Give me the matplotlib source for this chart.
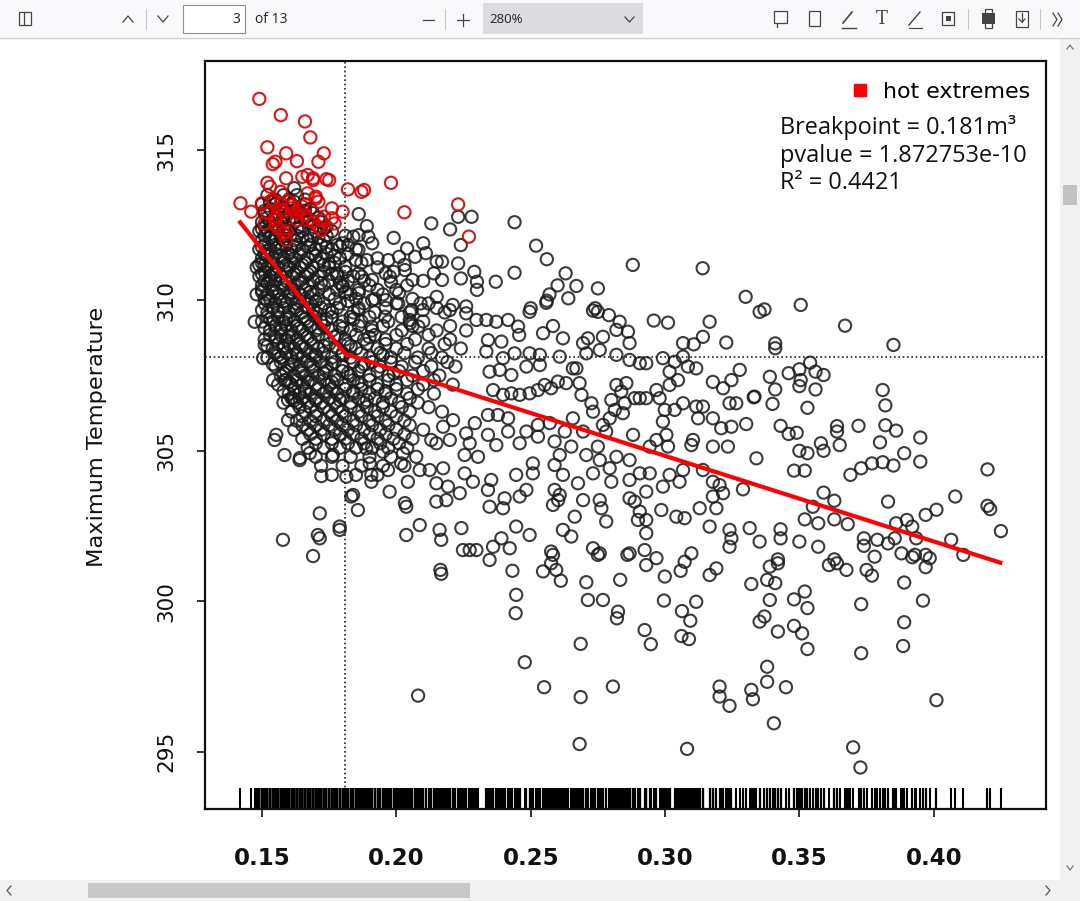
import matplotlib
matplotlib.use("Agg")
import matplotlib.pyplot as plt
from matplotlib.patches import Rectangle
from matplotlib.lines import Line2D
from matplotlib.transforms import blended_transform_factory

# ---------------- data ----------------
red_pts = [
    (0.149, 316.70), (0.157, 316.16), (0.166, 315.95), (0.168, 315.42), (0.152, 315.09),
    (0.159, 314.89), (0.163, 314.63), (0.155, 314.61), (0.154, 314.53), (0.173, 314.89),
    (0.171, 314.61), (0.159, 314.06), (0.165, 314.11), (0.167, 314.17), (0.169, 314.06),
    (0.174, 314.03), (0.152, 313.91), (0.153, 313.78), (0.157, 313.61), (0.142, 313.23),
    (0.146, 312.95), (0.150, 313.23), (0.154, 313.34), (0.157, 313.23), (0.160, 313.28),
    (0.165, 313.12), (0.170, 313.45), (0.171, 313.28), (0.176, 313.06), (0.180, 312.95),
    (0.176, 312.73), (0.177, 312.56), (0.172, 312.67), (0.169, 312.62), (0.172, 312.34),
    (0.155, 312.78), (0.155, 312.51), (0.158, 312.23), (0.159, 312.01), (0.158, 312.95),
    (0.161, 313.06), (0.163, 312.90), (0.166, 312.84), (0.182, 313.69), (0.187, 313.61),
    (0.188, 313.67), (0.198, 313.91), (0.203, 312.93), (0.223, 313.19), (0.227, 312.12),
    (0.169, 314.00), (0.175, 314.00), (0.154, 313.28), (0.157, 313.00), (0.161, 313.16),
    (0.164, 312.98), (0.155, 312.67), (0.159, 312.29), (0.156, 312.40), (0.163, 312.67),
    (0.167, 312.67), (0.171, 312.45), (0.173, 312.78), (0.170, 313.39), (0.167, 313.56),
    (0.152, 312.90), (0.151, 312.56),
]

black_top = [
    (0.162, 313.73), (0.186, 312.87), (0.189, 312.47), (0.199, 312.08), (0.213, 312.56),
    (0.220, 312.36), (0.223, 312.78), (0.228, 312.78), (0.224, 311.84), (0.210, 311.90),
    (0.204, 311.73), (0.201, 311.45), (0.207, 311.45), (0.211, 311.57), (0.215, 311.29),
    (0.217, 311.29), (0.223, 311.23), (0.229, 310.95), (0.230, 310.62), (0.224, 310.73),
    (0.217, 310.68), (0.214, 310.90), (0.206, 310.68), (0.203, 311.18), (0.197, 311.34),
    (0.193, 311.40), (0.191, 311.90), (0.186, 312.17), (0.184, 312.12), (0.180, 311.90),
    (0.189, 311.34), (0.185, 311.34), (0.181, 311.12), (0.186, 310.90), (0.191, 310.68),
    (0.196, 310.90), (0.198, 310.62), (0.201, 310.24), (0.196, 310.01), (0.191, 310.01),
    (0.186, 310.24), (0.180, 310.46), (0.178, 310.90), (0.175, 311.23), (0.209, 309.90),
    (0.215, 310.12), (0.221, 309.85), (0.226, 309.80), (0.230, 310.35), (0.149, 311.18),
    (0.151, 310.07), (0.153, 310.68),
    (0.244, 312.60), (0.252, 311.82), (0.256, 311.37), (0.244, 310.92), (0.237, 310.62),
    (0.263, 310.90), (0.260, 310.50), (0.267, 310.48), (0.257, 310.20), (0.256, 309.99),
    (0.264, 310.07), (0.275, 310.40), (0.288, 311.18), (0.314, 311.07), (0.330, 310.12),
    (0.250, 309.74), (0.274, 309.74),
    (0.3505, 309.85), (0.337, 309.70), (0.367, 309.16), (0.385, 308.52),
    (0.1896, 312.12), (0.1790, 311.79), (0.1821, 311.84), (0.1859, 311.68), (0.2032, 311.01),
    (0.1976, 310.79), (0.1871, 310.79), (0.1958, 309.46), (0.2007, 309.90), (0.2057, 309.68),
    (0.2051, 309.24), (0.2082, 309.13), (0.1908, 309.13), (0.1858, 309.68),
]

black_right = [
    (0.341, 308.57), (0.341, 308.41), (0.339, 307.46), (0.341, 307.04), (0.340, 306.56),
    (0.346, 307.58), (0.350, 307.71), (0.354, 307.93), (0.356, 307.63), (0.359, 307.52),
    (0.3505, 307.35), (0.350, 307.15), (0.356, 307.04), (0.353, 306.43), (0.343, 305.83),
    (0.346, 305.56), (0.349, 305.60), (0.350, 305.00), (0.353, 304.92), (0.358, 305.25),
    (0.359, 305.00), (0.364, 305.82), (0.364, 305.64), (0.365, 305.19), (0.372, 305.83),
    (0.380, 305.28), (0.381, 307.02), (0.382, 306.51), (0.382, 305.85), (0.386, 305.67),
    (0.395, 305.44), (0.389, 304.92), (0.395, 304.64), (0.348, 304.34), (0.352, 304.34),
    (0.369, 304.20), (0.373, 304.42), (0.377, 304.58), (0.381, 304.62), (0.385, 304.51),
    (0.420, 304.38), (0.359, 303.61), (0.363, 303.34), (0.355, 303.14), (0.383, 303.31),
    (0.408, 303.48), (0.420, 303.17), (0.421, 303.06), (0.401, 303.04), (0.397, 302.87),
    (0.352, 302.72), (0.357, 302.59), (0.363, 302.72), (0.368, 302.56), (0.386, 302.59),
    (0.390, 302.70), (0.392, 302.48), (0.425, 302.33), (0.4065, 302.04), (0.343, 302.39),
    (0.343, 302.09), (0.350, 301.98), (0.357, 301.81), (0.374, 302.09), (0.374, 301.84),
    (0.379, 302.04), (0.383, 301.92), (0.3855, 302.09), (0.3935, 302.09), (0.388, 301.59),
    (0.393, 301.54), (0.397, 301.54), (0.411, 301.54), (0.342, 301.39), (0.363, 301.39),
    (0.378, 301.48),
    (0.339, 301.15), (0.342, 301.26), (0.341, 300.60), (0.338, 300.71), (0.339, 300.04),
    (0.348, 300.06), (0.352, 300.32), (0.353, 299.77), (0.337, 299.49), (0.342, 298.99),
    (0.348, 299.18), (0.351, 298.93), (0.353, 298.41), (0.338, 297.82), (0.338, 297.32),
    (0.345, 297.14), (0.3405, 295.94), (0.361, 301.20), (0.364, 301.26), (0.3675, 301.04),
    (0.375, 301.04), (0.377, 300.85), (0.392, 301.46), (0.397, 301.13), (0.3985, 301.43),
    (0.389, 300.62), (0.396, 300.02), (0.373, 299.90), (0.389, 299.30), (0.3886, 298.51),
    (0.373, 298.27), (0.401, 296.71), (0.370, 295.14), (0.3727, 294.47),
]

black_mid = [
    (0.2496, 309.62), (0.2558, 309.92), (0.2732, 309.66), (0.2750, 309.62), (0.2791, 309.51),
    (0.2831, 309.29), (0.2862, 308.96), (0.2958, 309.33), (0.3011, 309.26), (0.3166, 309.29),
    (0.3141, 308.79), (0.3067, 308.58), (0.3107, 308.54), (0.3228, 308.60), (0.3352, 309.62),
    (0.2335, 309.35), (0.2372, 309.29), (0.2416, 309.35), (0.2453, 309.13), (0.2457, 308.85),
    (0.2391, 308.63), (0.2341, 308.68), (0.2546, 308.91), (0.2583, 309.15), (0.2620, 308.74),
    (0.2695, 308.58), (0.2713, 308.74), (0.2769, 308.79), (0.2819, 309.02), (0.2868, 308.58),
    (0.2707, 308.24), (0.2757, 308.35), (0.2819, 308.19), (0.2868, 308.02), (0.2906, 307.91),
    (0.2930, 307.91), (0.2992, 308.08), (0.3036, 307.96), (0.3067, 308.13), (0.3085, 307.80),
    (0.3116, 307.74), (0.3017, 307.63), (0.3048, 307.35), (0.3017, 307.19), (0.3178, 307.29),
    (0.3216, 307.08), (0.3247, 307.35), (0.3278, 307.69), (0.3240, 306.58), (0.3265, 306.58),
    (0.3330, 306.78), (0.3302, 305.89), (0.3116, 306.47), (0.3141, 306.47), (0.3123, 306.08),
    (0.3178, 306.08), (0.3209, 305.75), (0.3247, 305.80), (0.3234, 305.14), (0.3178, 305.14),
    (0.3104, 305.36), (0.3098, 305.19), (0.3005, 305.53), (0.3011, 305.14), (0.2968, 305.36),
    (0.2943, 305.14), (0.2881, 305.53), (0.2968, 307.02), (0.2980, 306.75), (0.2999, 306.36),
    (0.2992, 305.97), (0.3036, 306.36), (0.3067, 306.58), (0.2906, 306.75), (0.2930, 306.75),
    (0.2887, 306.75), (0.2856, 307.25), (0.2819, 307.19), (0.2837, 306.97), (0.2850, 306.58),
    (0.2800, 306.69), (0.2813, 306.36), (0.2843, 306.25), (0.2794, 306.08), (0.2769, 305.86),
    (0.2781, 305.64), (0.2732, 306.30), (0.2726, 306.58), (0.2689, 306.86), (0.2682, 307.25),
    (0.2670, 307.74), (0.2632, 307.25), (0.2601, 307.30), (0.2576, 307.08), (0.2552, 307.19),
    (0.2527, 307.02), (0.2496, 306.91), (0.2459, 306.86), (0.2428, 306.91), (0.2397, 306.86),
    (0.2360, 307.02), (0.2347, 307.63), (0.2385, 307.69), (0.2428, 307.52), (0.2484, 307.80),
    (0.2534, 307.85), (0.2496, 308.24), (0.2534, 308.19), (0.2608, 308.13), (0.2657, 307.74),
    (0.2440, 308.24), (0.2397, 308.08), (0.2335, 308.30), (0.2341, 306.19), (0.2378, 306.19),
    (0.2416, 306.08), (0.2341, 305.53), (0.2372, 305.19), (0.2416, 305.64), (0.2459, 305.25),
    (0.2484, 305.64), (0.2527, 305.47), (0.2527, 305.86), (0.2571, 305.92), (0.2589, 305.31),
    (0.2608, 304.86), (0.2589, 304.53), (0.2651, 305.14), (0.2627, 305.64), (0.2657, 306.08),
    (0.2695, 305.64), (0.2707, 304.86), (0.2757, 304.69), (0.2794, 304.42), (0.2819, 304.80),
    (0.2750, 305.14), (0.2868, 304.69), (0.2906, 304.25), (0.2943, 304.25), (0.2868, 304.03),
    (0.2800, 303.97), (0.2732, 304.25), (0.2676, 303.92), (0.2620, 304.20), (0.2508, 304.25),
    (0.2508, 304.58), (0.2446, 304.20), (0.2353, 304.03), (0.2341, 303.70), (0.2403, 303.42),
    (0.2459, 303.48), (0.2397, 303.09), (0.2347, 303.14), (0.2484, 303.70), (0.2589, 303.70),
    (0.2608, 303.53), (0.2583, 303.20), (0.2695, 303.36), (0.2757, 303.36), (0.2763, 303.09),
    (0.2868, 303.42), (0.2887, 303.31), (0.2930, 303.64), (0.2992, 303.81), (0.3054, 303.97),
    (0.3017, 304.20), (0.3067, 304.36), (0.3141, 304.36), (0.3178, 303.97), (0.3203, 303.86),
    (0.3290, 303.72), (0.3216, 303.59), (0.2986, 303.03), (0.3042, 302.81), (0.3073, 302.76),
    (0.3129, 303.09), (0.3178, 303.48), (0.3191, 303.09), (0.2906, 302.98), (0.2930, 302.70),
    (0.2899, 302.70), (0.2781, 302.65), (0.2664, 302.81), (0.2620, 302.37), (0.2651, 302.15),
    (0.2602, 303.36), (0.2446, 302.48), (0.2496, 302.20), (0.2391, 302.09), (0.2360, 301.81),
    (0.2422, 301.76), (0.2576, 301.65), (0.2732, 301.76), (0.2757, 301.59), (0.2868, 301.59),
    (0.2924, 301.70), (0.2930, 302.26), (0.3098, 301.59), (0.3166, 302.48), (0.3240, 302.37),
    (0.3247, 302.09), (0.3240, 301.81), (0.3315, 302.43), (0.3352, 301.98), (0.3333, 306.80),
    (0.3340, 304.75),
]

black_low = [
    (0.2347, 301.37), (0.2432, 301.01), (0.2446, 300.21), (0.2444, 299.60), (0.2478, 297.97),
    (0.2550, 297.14), (0.2686, 298.58), (0.2686, 296.81), (0.2682, 295.25), (0.2806, 297.16),
    (0.2546, 300.99), (0.2576, 301.26), (0.2595, 301.04), (0.2612, 300.68), (0.2583, 301.54),
    (0.2707, 300.63), (0.2713, 300.04), (0.2769, 300.04), (0.2750, 301.54), (0.2833, 300.71),
    (0.2825, 299.65), (0.2821, 299.43), (0.2860, 301.54), (0.2930, 301.20), (0.2968, 301.43),
    (0.2924, 299.04), (0.2947, 298.57), (0.2999, 300.82), (0.2996, 300.02), (0.3058, 301.01),
    (0.3073, 301.31), (0.3063, 299.67), (0.3094, 299.35), (0.3116, 299.98), (0.3061, 298.84),
    (0.3089, 298.74), (0.3082, 295.09), (0.3166, 300.87), (0.3191, 301.09), (0.3203, 297.16),
    (0.3203, 296.83), (0.3240, 296.52), (0.3321, 297.05), (0.3327, 296.74), (0.3321, 300.57),
    (0.3352, 299.32), (0.1690, 301.50), (0.2164, 301.04), (0.2167, 300.91), (0.2081, 296.86),
]

black_left = [
    (0.1473, 309.29), (0.1510, 308.52), (0.1504, 308.08), (0.1541, 307.35), (0.1584, 307.35),
    (0.1597, 306.69), (0.1615, 306.75), (0.1597, 306.02), (0.1553, 305.53), (0.1547, 305.36),
    (0.1584, 304.86), (0.1640, 304.69), (0.1678, 304.92), (0.1764, 304.86), (0.1721, 304.16),
    (0.1814, 304.14), (0.1832, 303.48), (0.1857, 303.03), (0.1715, 302.92), (0.1789, 302.48),
    (0.1789, 302.37), (0.1708, 302.20), (0.1715, 302.09), (0.1578, 302.04), (0.1888, 305.08),
    (0.1901, 304.58), (0.1907, 304.20), (0.1907, 303.97), (0.1969, 304.36), (0.1975, 303.64),
    (0.2037, 303.14), (0.2043, 303.97), (0.2087, 304.36), (0.2124, 304.36), (0.2174, 304.42),
    (0.2149, 303.92), (0.2192, 303.81), (0.2186, 303.36), (0.2149, 303.31), (0.2236, 303.59),
    (0.2254, 304.25), (0.2285, 303.97), (0.2087, 302.53), (0.2037, 302.20), (0.2161, 302.37),
    (0.2167, 302.04), (0.2242, 302.43), (0.2248, 301.70), (0.2273, 301.70), (0.2298, 301.70),
    (0.1950, 304.97), (0.2025, 304.92), (0.2074, 304.80), (0.2018, 304.58), (0.2130, 305.36),
    (0.2149, 305.25), (0.2199, 305.36), (0.2254, 304.86), (0.2273, 305.25), (0.2304, 304.80),
    (0.2260, 305.58), (0.2292, 305.92), (0.2211, 306.02), (0.2174, 305.80), (0.2199, 309.68),
    (0.2099, 309.68), (0.2050, 309.35), (0.2260, 309.57), (0.2298, 309.35),
    (0.1641, 304.76), (0.1839, 303.53), (0.2032, 303.26),
]

# dense overlapping core, read row by row (temperature, then the soil values seen on it)
dense_y = [313.5, 313.2, 312.9, 312.6, 312.3, 312.0, 311.7, 311.4, 311.1, 310.8, 310.5,
           310.2, 309.9, 309.6, 309.3, 309.0, 308.7, 308.4, 308.1, 307.8, 307.5, 307.2,
           306.9, 306.6, 306.3, 306.0, 305.7, 305.4, 305.1, 304.8, 304.5, 304.2]
dense_x = [
    [0.152, 0.158, 0.163],
    [0.150, 0.155, 0.161, 0.166],
    [0.151, 0.156, 0.160, 0.164, 0.169],
    [0.150, 0.153, 0.157, 0.162, 0.167, 0.172],
    [0.149, 0.152, 0.156, 0.160, 0.165, 0.170, 0.176],
    [0.150, 0.154, 0.158, 0.162, 0.167, 0.173],
    [0.149, 0.153, 0.157, 0.161, 0.165, 0.170, 0.176, 0.185],
    [0.150, 0.154, 0.158, 0.162, 0.167, 0.172, 0.179],
    [0.148, 0.152, 0.156, 0.160, 0.164, 0.169, 0.175, 0.193],
    [0.149, 0.153, 0.157, 0.161, 0.166, 0.171, 0.178, 0.184],
    [0.150, 0.154, 0.158, 0.162, 0.167, 0.173, 0.180, 0.190, 0.204],
    [0.148, 0.152, 0.156, 0.160, 0.164, 0.169, 0.175, 0.183, 0.195],
    [0.151, 0.155, 0.159, 0.163, 0.168, 0.173, 0.179, 0.188, 0.200, 0.212],
    [0.152, 0.156, 0.160, 0.165, 0.170, 0.176, 0.184, 0.192, 0.205, 0.218],
    [0.150, 0.154, 0.158, 0.162, 0.167, 0.172, 0.180, 0.187, 0.197, 0.210],
    [0.153, 0.157, 0.161, 0.165, 0.170, 0.176, 0.183, 0.191, 0.202, 0.215, 0.226],
    [0.151, 0.155, 0.159, 0.163, 0.168, 0.174, 0.181, 0.188, 0.196, 0.207, 0.220],
    [0.154, 0.158, 0.162, 0.166, 0.171, 0.178, 0.185, 0.193, 0.200, 0.212, 0.224],
    [0.152, 0.157, 0.161, 0.165, 0.170, 0.176, 0.183, 0.190, 0.198, 0.208, 0.217],
    [0.155, 0.160, 0.164, 0.169, 0.174, 0.180, 0.187, 0.194, 0.202, 0.213, 0.222],
    [0.157, 0.162, 0.166, 0.171, 0.177, 0.183, 0.190, 0.197, 0.206, 0.216],
    [0.156, 0.161, 0.165, 0.170, 0.175, 0.181, 0.187, 0.193, 0.200, 0.210, 0.221],
    [0.160, 0.164, 0.168, 0.173, 0.178, 0.184, 0.190, 0.196, 0.204, 0.214],
    [0.158, 0.163, 0.167, 0.172, 0.177, 0.183, 0.188, 0.195, 0.201, 0.208],
    [0.161, 0.166, 0.170, 0.175, 0.180, 0.186, 0.192, 0.198, 0.205, 0.217],
    [0.163, 0.168, 0.173, 0.178, 0.184, 0.190, 0.196, 0.203],
    [0.162, 0.167, 0.172, 0.177, 0.182, 0.188, 0.194, 0.200, 0.210],
    [0.165, 0.170, 0.176, 0.181, 0.187, 0.193, 0.199, 0.206],
    [0.167, 0.173, 0.179, 0.185, 0.191, 0.197, 0.204],
    [0.170, 0.176, 0.183, 0.190, 0.198],
    [0.172, 0.180, 0.187, 0.195, 0.203],
    [0.176, 0.185, 0.193],
]

# second, in-between layer of the same overlapping core
dense2_y = [313.35, 313.05, 312.75, 312.45, 312.15, 311.85, 311.55, 311.25, 310.95, 310.65,
            310.35, 310.05, 309.75, 309.45, 309.15, 308.85, 308.55, 308.25, 307.95, 307.65,
            307.35, 307.05, 306.75, 306.45, 306.15, 305.85, 305.55, 305.25]
dense2_x = [
    [0.155, 0.160, 0.166],
    [0.153, 0.158, 0.163, 0.168],
    [0.152, 0.158, 0.162, 0.166, 0.171],
    [0.151, 0.155, 0.159, 0.164, 0.169, 0.174],
    [0.151, 0.155, 0.159, 0.163, 0.168, 0.174, 0.181],
    [0.151, 0.155, 0.159, 0.163, 0.168, 0.172, 0.178],
    [0.151, 0.155, 0.160, 0.164, 0.169, 0.174, 0.182],
    [0.150, 0.154, 0.158, 0.162, 0.166, 0.171, 0.177, 0.187],
    [0.151, 0.155, 0.159, 0.163, 0.168, 0.173, 0.181, 0.199],
    [0.151, 0.155, 0.159, 0.164, 0.169, 0.175, 0.182, 0.188, 0.210],
    [0.150, 0.154, 0.158, 0.162, 0.166, 0.171, 0.178, 0.186, 0.193, 0.200],
    [0.153, 0.157, 0.161, 0.166, 0.171, 0.177, 0.185, 0.192, 0.206],
    [0.154, 0.158, 0.162, 0.167, 0.172, 0.178, 0.186, 0.196, 0.215],
    [0.152, 0.156, 0.160, 0.165, 0.170, 0.176, 0.183, 0.190, 0.202],
    [0.155, 0.159, 0.163, 0.168, 0.173, 0.179, 0.186, 0.195, 0.206, 0.220],
    [0.153, 0.157, 0.161, 0.166, 0.171, 0.178, 0.185, 0.192, 0.200, 0.212],
    [0.156, 0.160, 0.164, 0.169, 0.175, 0.182, 0.189, 0.196, 0.204, 0.218],
    [0.155, 0.159, 0.163, 0.168, 0.173, 0.180, 0.187, 0.194, 0.203, 0.213],
    [0.157, 0.162, 0.167, 0.172, 0.177, 0.184, 0.191, 0.198, 0.207, 0.219],
    [0.159, 0.164, 0.169, 0.174, 0.180, 0.186, 0.193, 0.201, 0.210],
    [0.159, 0.163, 0.168, 0.173, 0.178, 0.184, 0.190, 0.197, 0.204, 0.214],
    [0.162, 0.166, 0.171, 0.176, 0.181, 0.187, 0.193, 0.200, 0.208],
    [0.161, 0.165, 0.170, 0.175, 0.180, 0.186, 0.192, 0.198, 0.205],
    [0.164, 0.168, 0.173, 0.178, 0.183, 0.189, 0.195, 0.202, 0.212],
    [0.165, 0.170, 0.176, 0.181, 0.187, 0.193, 0.200],
    [0.165, 0.170, 0.175, 0.180, 0.185, 0.191, 0.197, 0.205],
    [0.168, 0.173, 0.179, 0.184, 0.190, 0.196, 0.203],
    [0.170, 0.176, 0.182, 0.188, 0.194, 0.201],
]

# third layer: the darkest part of the core
dense3_y = [313.28, 312.98, 312.68, 312.38, 312.08, 311.78, 311.48, 311.18, 310.88, 310.58,
            310.28, 309.98, 309.68, 309.38, 309.08, 308.78, 308.48, 308.18, 307.88, 307.58,
            307.28, 306.98, 306.68]
dense3_x = [
    [0.153, 0.162],
    [0.151, 0.159, 0.166],
    [0.154, 0.160, 0.168],
    [0.150, 0.158, 0.163, 0.173],
    [0.153, 0.157, 0.165, 0.171],
    [0.150, 0.156, 0.162, 0.167, 0.174],
    [0.152, 0.157, 0.161, 0.170, 0.177],
    [0.151, 0.159, 0.165, 0.173],
    [0.150, 0.154, 0.162, 0.167, 0.176],
    [0.152, 0.157, 0.165, 0.172, 0.179],
    [0.150, 0.155, 0.161, 0.168, 0.181],
    [0.152, 0.158, 0.164, 0.170, 0.182],
    [0.150, 0.156, 0.163, 0.169, 0.175],
    [0.153, 0.159, 0.166, 0.174, 0.184],
    [0.151, 0.157, 0.164, 0.171, 0.180],
    [0.155, 0.160, 0.167, 0.177, 0.190],
    [0.152, 0.158, 0.165, 0.173, 0.183],
    [0.156, 0.163, 0.170, 0.180, 0.195],
    [0.154, 0.161, 0.168, 0.176, 0.188],
    [0.158, 0.165, 0.173, 0.182, 0.199],
    [0.160, 0.167, 0.176, 0.186],
    [0.158, 0.166, 0.174, 0.184, 0.196],
    [0.162, 0.170, 0.179, 0.189],
]

# segmented regression fit
fit_x = [0.1414, 0.181, 0.4255]
fit_y = [312.65, 308.22, 301.26]
breakpoint_x = 0.181
breakpoint_y = 308.12

x_ticks = [0.15, 0.20, 0.25, 0.30, 0.35, 0.40]
x_ticklabels = ["0.15", "0.20", "0.25", "0.30", "0.35", "0.40"]
y_ticks = [295, 300, 305, 310, 315]
y_ticklabels = ["295", "300", "305", "310", "315"]

# ---------------- assemble ----------------
bx, by = [], []
for group in (black_top, black_right, black_mid, black_low, black_left):
    for x, y in group:
        bx.append(x); by.append(y)
for rows_y, rows_x in ((dense_y, dense_x), (dense2_y, dense2_x), (dense3_y, dense3_x)):
    for yv, xs in zip(rows_y, rows_x):
        for x in xs:
            bx.append(x); by.append(yv)
rx = [p[0] for p in red_pts]
ry = [p[1] for p in red_pts]

W, H = 1080, 901
fig = plt.figure(figsize=(W / 100, H / 100), dpi=100)
fig.patch.set_facecolor("white")

# ---------------- viewer chrome ----------------
ui = fig.add_axes([0, 0, 1, 1], zorder=-5)
ui.set_xlim(0, W); ui.set_ylim(H, 0); ui.axis("off")
ui.add_patch(Rectangle((0, 0), W, 37, fc="#f9f9fb", ec="none"))
ui.plot([0, W], [37.5, 37.5], color="#cfcfcf", lw=1)
uf = dict(family=["Open Sans", "DejaVu Sans"], color="#222222")
ui.add_patch(Rectangle((19, 12), 12, 13, fill=False, ec="#444444", lw=0.9))
ui.plot([24, 24], [12, 25], color="#444444", lw=0.9)
ui.plot([123, 128, 133], [22, 16, 22], color="#444444", lw=0.9)
ui.plot([146, 146], [9, 29], color="#c8c8c8", lw=0.8)
ui.plot([158, 163, 168], [16, 22, 16], color="#444444", lw=0.9)
ui.add_patch(Rectangle((183, 5), 62, 28, fc="white", ec="#8d8d8d", lw=0.8))
ui.text(240, 19.5, "3", ha="right", va="center", fontsize=10, **uf)
ui.text(255, 19.5, "of 13", ha="left", va="center", fontsize=10, **uf)
ui.plot([423, 434], [19.5, 19.5], color="#444444", lw=0.9)
ui.plot([445, 445], [9, 29], color="#c8c8c8", lw=0.8)
ui.plot([457, 469], [19.5, 19.5], color="#444444", lw=0.9)
ui.plot([463, 463], [13.5, 25.5], color="#444444", lw=0.9)
ui.add_patch(Rectangle((483, 3), 160, 31, fc="#dcdce0", ec="none"))
ui.text(489, 19.5, "280%", ha="left", va="center", fontsize=9.5, **uf)
ui.plot([625, 629.5, 634], [17, 22, 17], color="#444444", lw=0.9)
ui.add_patch(Rectangle((774, 11), 13, 12, fill=False, ec="#444444", lw=0.9))
ui.plot([777, 777], [23, 27], color="#444444", lw=0.9)
ui.add_patch(Rectangle((809, 11), 11, 15, fill=False, ec="#444444", lw=0.9))
ui.plot([843, 852], [23, 12], color="#444444", lw=1.2)
ui.plot([842, 856], [28, 28], color="#444444", lw=1.0)
ui.text(882, 19.5, "T", ha="center", va="center", fontsize=13,
        family=["DejaVu Serif"], color="#444444")
ui.plot([909, 920], [25, 12], color="#444444", lw=1.0)
ui.plot([909, 922], [28, 28], color="#444444", lw=0.8)
ui.add_patch(Rectangle((942, 12), 12, 13, fill=False, ec="#444444", lw=0.9))
ui.add_patch(Rectangle((946, 16), 5, 5, fc="#444444", ec="none"))
ui.plot([968, 968], [9, 29], color="#c8c8c8", lw=0.8)
ui.add_patch(Rectangle((982, 13), 13, 11, fc="#444444", ec="none"))
ui.add_patch(Rectangle((985, 9), 7, 19, fill=False, ec="#444444", lw=0.9))
ui.add_patch(Rectangle((1016, 11), 12, 16, fill=False, ec="#444444", lw=0.9))
ui.plot([1022, 1022], [13, 22], color="#444444", lw=0.9)
ui.plot([1019, 1022, 1025], [19, 22, 19], color="#444444", lw=0.9)
ui.plot([1040, 1040], [9, 29], color="#c8c8c8", lw=0.8)
ui.plot([1053, 1057, 1053], [13, 19.5, 26], color="#444444", lw=0.9)
ui.plot([1058, 1062, 1058], [13, 19.5, 26], color="#444444", lw=0.9)
ui.add_patch(Rectangle((1060, 38), 20, 842, fc="#f1f1f1", ec="none"))
ui.add_patch(Rectangle((1063, 185), 14, 20, fc="#c2c2c2", ec="none"))
ui.plot([1067, 1070, 1073], [49, 45, 49], color="#777777", lw=0.9)
ui.plot([1067, 1070, 1073], [866, 870, 866], color="#777777", lw=0.9)
ui.add_patch(Rectangle((0, 880), W, 21, fc="#f1f1f1", ec="none"))
ui.add_patch(Rectangle((88, 883), 382, 15, fc="#c8c8c8", ec="none"))
ui.plot([11, 7, 11], [886, 890.5, 895], color="#555555", lw=0.9)
ui.plot([1046, 1050, 1046], [886, 890.5, 895], color="#555555", lw=0.9)

# ---------------- chart ----------------
ax_l, ax_r, ax_t, ax_b = 205, 1046, 61, 809
ax = fig.add_axes([ax_l / W, 1 - ax_b / H, (ax_r - ax_l) / W, (ax_b - ax_t) / H])
ax.set_facecolor("white")
ax.set_xlim(0.12879, 0.44178)
ax.set_ylim(293.09, 317.96)

ms = 8.8
ax.scatter(bx, by, s=ms ** 2, facecolors="none", edgecolors="#1a1a1a",
           linewidths=1.5, alpha=0.85, zorder=2)
ax.scatter(rx, ry, s=ms ** 2, facecolors="none", edgecolors="#e00000",
           linewidths=1.5, alpha=0.92, zorder=3)

ax.axvline(breakpoint_x, color="#222222", lw=1.2, ls=(0, (1, 1.6)), zorder=1)
ax.axhline(breakpoint_y, color="#222222", lw=1.2, ls=(0, (1, 1.6)), zorder=1)
ax.plot(fit_x, fit_y, color="#ff0000", lw=3.0, zorder=4, solid_capstyle="butt")

# rug
trans = blended_transform_factory(ax.transData, ax.transAxes)
ax.vlines(bx + rx, 0, 0.028, transform=trans, color="black", lw=1.5, zorder=2)

for s in ax.spines.values():
    s.set_linewidth(1.6)
    s.set_color("#111111")

ax.set_xticks(x_ticks)
ax.set_xticklabels(x_ticklabels, fontsize=16.5, fontweight="bold", family="DejaVu Sans")
ax.set_yticks(y_ticks)
ax.set_yticklabels(y_ticklabels, fontsize=15.5, rotation=90, va="center", family="DejaVu Sans")
ax.tick_params(axis="x", length=5.8, width=1.2, pad=21.5, colors="#111111")
ax.tick_params(axis="y", length=5.8, width=1.2, pad=15, colors="#111111")

fig.text(97 / W, 1 - 437 / H, "Maximum Temperature", rotation=90, ha="center",
         va="center", fontsize=16.2, family="DejaVu Sans", color="#111111")

leg_handle = Line2D([], [], marker="s", color="#ff0000", ls="none", markersize=8.6)
ax.legend([leg_handle], ["hot extremes"], loc="center left",
          bbox_to_anchor=(849 / W, 1 - 92 / H), bbox_transform=fig.transFigure,
          frameon=False, handlelength=1.0, handletextpad=0.55,
          borderpad=0, borderaxespad=0, prop={"family": "DejaVu Sans", "size": 15.9})

stat_font = dict(family=["Open Sans", "DejaVu Sans"], fontsize=16.9, color="#111111")
fig.text(780 / W, 1 - 128 / H, "Breakpoint = 0.181m³", ha="left", va="center", **stat_font)
fig.text(780 / W, 1 - 156 / H, "pvalue = 1.872753e-10", ha="left", va="center", **stat_font)
fig.text(780 / W, 1 - 183 / H, "R² = 0.4421", ha="left", va="center", **stat_font)

fig.savefig("out.png", dpi=100)
